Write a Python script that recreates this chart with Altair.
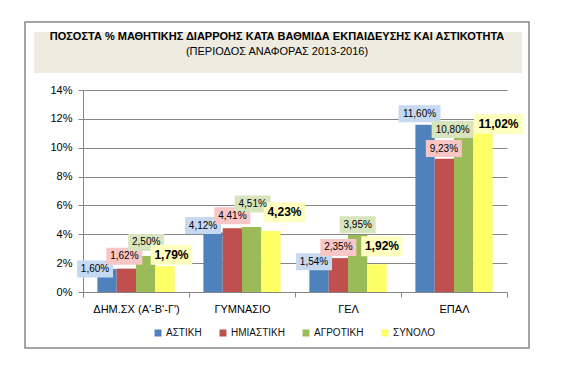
import altair as alt
import pandas as pd

# ---------------- data ----------------
categories = ["ΔΗΜ.ΣΧ (Α'-Β'-Γ')", "ΓΥΜΝΑΣΙΟ", "ΓΕΛ", "ΕΠΑΛ"]
series = ["ΑΣΤΙΚΗ", "ΗΜΙΑΣΤΙΚΗ", "ΑΓΡΟΤΙΚΗ", "ΣΥΝΟΛΟ"]
astiki = [1.60, 4.12, 1.54, 11.60]
imiastiki = [1.62, 4.41, 2.35, 9.23]
agrotiki = [2.50, 4.51, 3.95, 10.80]
synolo = [1.79, 4.23, 1.92, 11.02]
y_ticks = [0, 2, 4, 6, 8, 10, 12, 14]

TITLE = "ΠΟΣΟΣΤΑ  % ΜΑΘΗΤΙΚΗΣ  ΔΙΑΡΡΟΗΣ ΚΑΤΑ  ΒΑΘΜΙΔΑ  ΕΚΠΑΙΔΕΥΣΗΣ  ΚΑΙ   ΑΣΤΙΚΟΤΗΤΑ"
SUBTITLE = "(ΠΕΡΙΟΔΟΣ ΑΝΑΦΟΡΑΣ 2013-2016)"

# ---------------- style ----------------
FONT = "Liberation Sans"
colors = ["#4F81BD", "#C0504D", "#9BBB59", "#FFFF66"]
box_colors = ["#C6D9F1", "#F9C6C6", "#D7E4BD", "#FFFFC0"]
GRID = "#868686"

# label offsets (px) from the top-centre of each bar, per category x series
label_dx = [[-12, -2, 0.5, 6.5], [-10, 0, 1, 13.5], [-5, 0, 0, 5], [-5.5, -0.5, -11, 15.5]]
label_dy = [[0, -12.5, -13.5, -11.5], [-7, -12.5, -23, -18.7], [-8, -10.7, -10.3, -18], [-11, -10.3, -6.6, -9]]

values = [astiki, imiastiki, agrotiki, synolo]
rows = []
for ci, cat in enumerate(categories):
    for si, s in enumerate(series):
        v = values[si][ci]
        lab = f"{v:.2f}".replace(".", ",") + "%"
        bold = si == 3
        w = (7.5 * len(lab) + 4) if bold else (6 * len(lab) + 6)
        h = 20 if bold else 17
        dx = label_dx[ci][si]
        dy = label_dy[ci][si]
        path = f"M{dx - w/2},{dy - h/2}H{dx + w/2}V{dy + h/2}H{dx - w/2}Z"
        rows.append(dict(cat=cat, series=s, value=v, label=lab, dx=dx, dy=dy,
                         path=path, boxcol=box_colors[si], bold=bold))
df = pd.DataFrame(rows)

x_enc = alt.X("cat:N", sort=categories,
              scale=alt.Scale(paddingInner=0, paddingOuter=0),
              axis=alt.Axis(title=None, labelAngle=0, tickBand="extent", tickSize=5,
                            domainColor=GRID, tickColor=GRID, labelFontSize=11,
                            labelFont=FONT, labelColor="#000", labelPadding=6, grid=False))
xo_enc = alt.XOffset("series:N", sort=series,
                     scale=alt.Scale(paddingInner=0, paddingOuter=0.745))
y_enc = alt.Y("value:Q", scale=alt.Scale(domain=[0, 14], nice=False),
              axis=alt.Axis(title=None, values=y_ticks, labelExpr="datum.value + '%'",
                            grid=True, gridColor=GRID, domainColor=GRID, tickColor=GRID,
                            tickSize=5, labelFontSize=11, labelFont=FONT, labelColor="#000",
                            labelPadding=6))

one = pd.DataFrame({"k": [0]})
frame = alt.Chart(one).mark_rect(fill="transparent", stroke="#888888", strokeWidth=1.5).encode(
    x=alt.value(-58), x2=alt.value(446), y=alt.value(-68), y2=alt.value(258))
title_box = alt.Chart(one).mark_rect(fill="#EEECE1").encode(
    x=alt.value(-49), x2=alt.value(439), y=alt.value(-58), y2=alt.value(-17))
title1 = alt.Chart(one).mark_text(text=TITLE, font=FONT, fontSize=11, fontWeight="bold",
                                  color="#000", align="center", baseline="middle").encode(
    x=alt.value(194), y=alt.value(-53))
title2 = alt.Chart(one).mark_text(text=SUBTITLE, font=FONT, fontSize=11,
                                  color="#000", align="center", baseline="middle").encode(
    x=alt.value(194), y=alt.value(-38))

bars = alt.Chart(df).mark_bar().encode(
    x=x_enc, xOffset=xo_enc, y=y_enc,
    color=alt.Color("series:N", sort=series,
                    scale=alt.Scale(domain=series, range=colors),
                    legend=alt.Legend(title=None, orient="none", legendX=70, legendY=238,
                                      direction="horizontal", symbolType="square",
                                      symbolSize=49, symbolStrokeWidth=0, labelFontSize=10,
                                      labelFont=FONT, labelColor="#111", columnPadding=16,
                                      labelOffset=3, padding=0)))

boxes = alt.Chart(df).mark_point(filled=True, size=4, opacity=1, strokeWidth=0).encode(
    x=x_enc, xOffset=xo_enc, y=y_enc,
    shape=alt.Shape("path:N", scale=None),
    fill=alt.Fill("boxcol:N", scale=None))

txt_norm = alt.Chart(df).transform_filter("!datum.bold").mark_text(
    font=FONT, fontSize=10, color="#000", align="center", baseline="middle",
    dx=alt.ExprRef(expr="datum.dx"), dy=alt.ExprRef(expr="datum.dy")).encode(
    x=x_enc, xOffset=xo_enc, y=y_enc, text="label:N")
txt_bold = alt.Chart(df).transform_filter("datum.bold").mark_text(
    font=FONT, fontSize=12, fontWeight="bold", color="#000", align="center", baseline="middle",
    dx=alt.ExprRef(expr="datum.dx"), dy=alt.ExprRef(expr="datum.dy")).encode(
    x=x_enc, xOffset=xo_enc, y=y_enc, text="label:N")

chart = alt.layer(frame, title_box, title1, title2, bars, boxes, txt_norm, txt_bold).properties(
    width=424, height=202,
    autosize=alt.AutoSizeParams(type="none"),
    padding={"left": 75, "top": 82, "right": 50, "bottom": 70},
).configure_view(stroke=None)

chart.save("out.html", embed_options={"renderer": "svg", "actions": False})
